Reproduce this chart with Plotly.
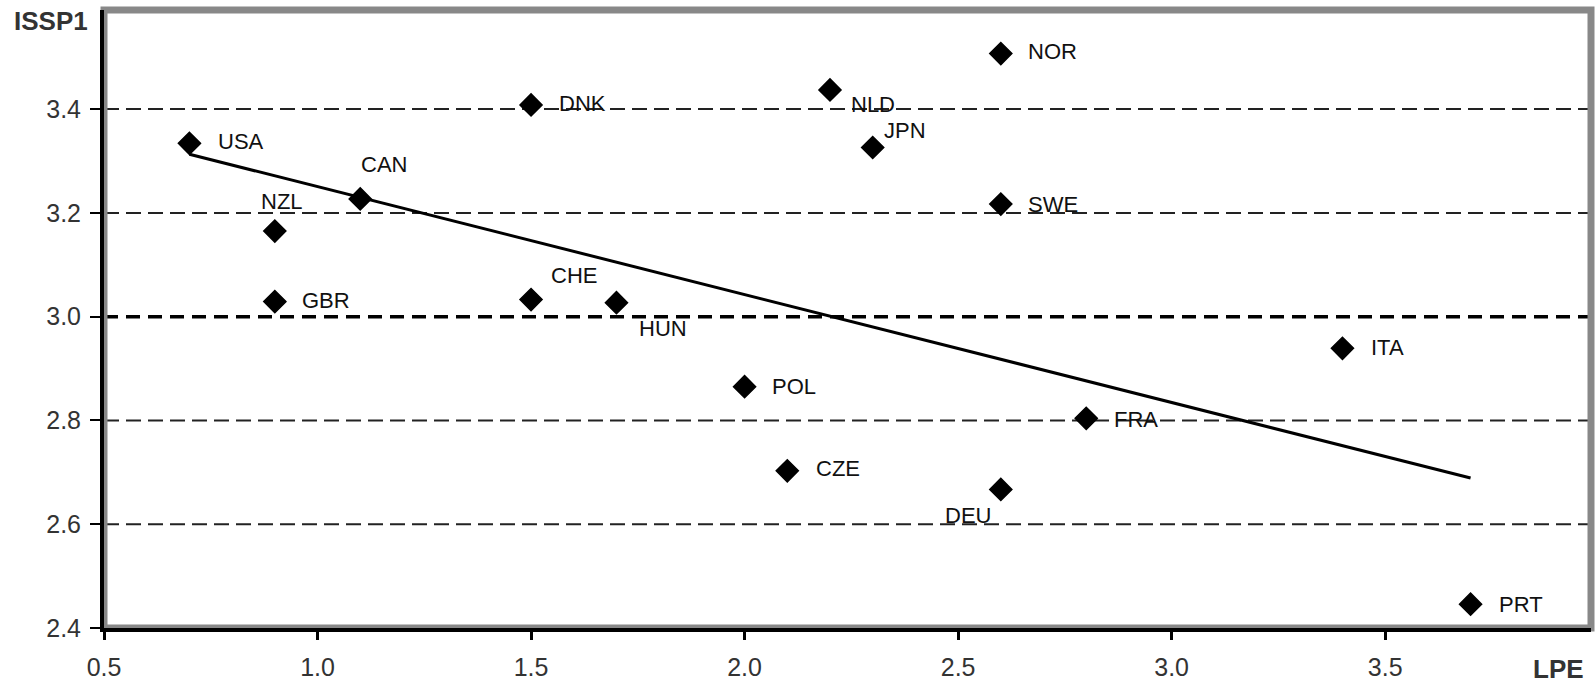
import plotly.graph_objects as go

# ---- data ----
countries = ["USA", "NZL", "CAN", "GBR", "DNK", "CHE", "HUN", "POL", "CZE",
             "NLD", "JPN", "NOR", "SWE", "DEU", "FRA", "ITA", "PRT"]
lpe = [0.7, 0.9, 1.1, 0.9, 1.5, 1.5, 1.7, 2.0, 2.1,
       2.2, 2.3, 2.6, 2.6, 2.6, 2.8, 3.4, 3.7]
issp1 = [3.334, 3.165, 3.227, 3.029, 3.408, 3.033, 3.027, 2.865, 2.703,
         3.437, 3.326, 3.507, 3.217, 2.667, 2.804, 2.939, 2.446]

trend_x = [0.7, 3.7]
trend_y = [3.313, 2.689]

grid_levels = [2.6, 2.8, 3.2, 3.4]
ref_level = 3.0

x_ticks = [0.5, 1.0, 1.5, 2.0, 2.5, 3.0, 3.5]
y_ticks = [2.4, 2.6, 2.8, 3.0, 3.2, 3.4]

# ---- label placement (screen px offsets) ----
label_pos = {
    "USA": ("left", 27, 2), "NZL": ("left", -16, 30), "CAN": ("left", -1, 34),
    "GBR": ("left", 25, 1), "DNK": ("left", 26, 1), "CHE": ("left", 18, 24),
    "HUN": ("left", 21, -26), "POL": ("left", 25, 0), "CZE": ("left", 27, 2),
    "NLD": ("left", 19, -15), "JPN": ("left", 9, 17), "NOR": ("left", 25, 2),
    "SWE": ("left", 25, 0), "DEU": ("right", -8, -26), "FRA": ("left", 26, -1),
    "ITA": ("left", 27, 1), "PRT": ("left", 26, 0),
}

FONT = "Liberation Sans, Arial, sans-serif"

fig = go.Figure()

fig.add_trace(go.Scatter(
    x=trend_x, y=trend_y, mode="lines",
    line=dict(color="black", width=3), hoverinfo="skip", showlegend=False))

fig.add_trace(go.Scatter(
    x=lpe, y=issp1, mode="markers", text=countries,
    marker=dict(symbol="diamond", size=17, color="black",
                line=dict(color="black", width=1.5)),
    showlegend=False, cliponaxis=False))

shapes = []
for lv in grid_levels:
    shapes.append(dict(type="line", xref="paper", yref="y", x0=0, x1=1, y0=lv, y1=lv,
                       line=dict(color="#222222", width=2, dash="15px,7px"), layer="below"))
shapes.append(dict(type="line", xref="paper", yref="y", x0=0, x1=1, y0=ref_level, y1=ref_level,
                   line=dict(color="black", width=3.5, dash="14px,8px"), layer="below"))
# gray frame
shapes.append(dict(type="rect", xref="paper", yref="paper", x0=0, x1=1, y0=0, y1=1,
                   line=dict(color="#888888", width=7), layer="below"))

annotations = []
for c, xv, yv in zip(countries, lpe, issp1):
    anchor, dx, dy = label_pos[c]
    annotations.append(dict(x=xv, y=yv, xref="x", yref="y", text=c, showarrow=False,
                            xanchor=anchor, yanchor="middle", xshift=dx, yshift=dy,
                            font=dict(family=FONT, size=22, color="#111111")))

annotations.append(dict(x=-0.0619, y=0.982, xref="paper", yref="paper", text="<b>ISSP1</b>",
                        showarrow=False, xanchor="left", yanchor="middle",
                        font=dict(family=FONT, size=26, color="#333333")))
annotations.append(dict(x=0.9966, y=-0.0663, xref="paper", yref="paper", text="<b>LPE</b>",
                        showarrow=False, xanchor="right", yanchor="middle",
                        font=dict(family=FONT, size=26, color="#333333")))

fig.update_layout(
    width=1595, height=686,
    margin=dict(l=104, r=4, t=10, b=58, autoexpand=False),
    paper_bgcolor="white", plot_bgcolor="white",
    shapes=shapes, annotations=annotations,
    xaxis=dict(range=[0.5, 3.982], tickvals=x_ticks, ticktext=[f"{v:.1f}" for v in x_ticks],
               showgrid=False, zeroline=False, showline=True, linecolor="black", linewidth=4,
               ticks="outside", ticklen=8, tickwidth=3, tickcolor="black",
               ticklabelstandoff=6, automargin=False,
               tickfont=dict(family=FONT, size=25, color="#333333")),
    yaxis=dict(range=[2.4, 3.591], tickvals=y_ticks, ticktext=[f"{v:.1f}" for v in y_ticks],
               showgrid=False, zeroline=False, showline=True, linecolor="black", linewidth=4,
               ticks="outside", ticklen=10, tickwidth=2, tickcolor="black",
               ticklabelstandoff=4, automargin=False,
               tickfont=dict(family=FONT, size=25, color="#333333")),
)

fig.write_html("out.html")
